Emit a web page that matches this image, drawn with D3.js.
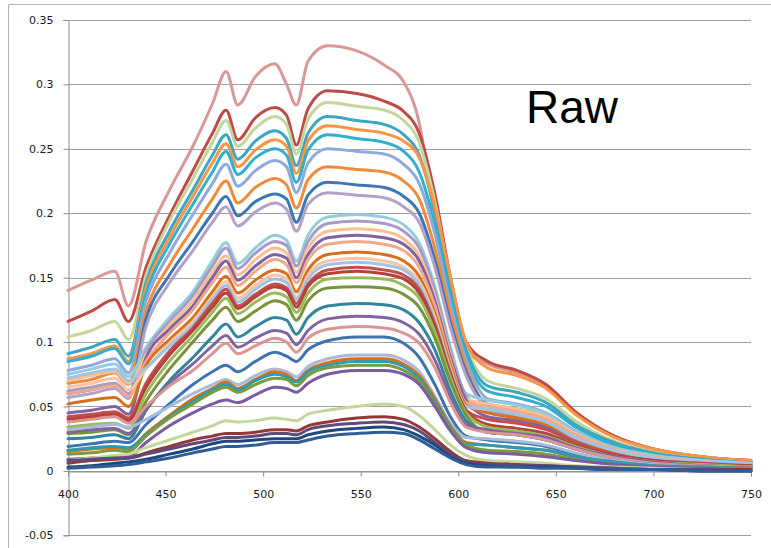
<!DOCTYPE html>
<html><head><meta charset="utf-8">
<script src="https://cdn.jsdelivr.net/npm/d3@7"></script>
<style>html,body{margin:0;padding:0;background:#fff;}svg{display:block;}</style>
</head><body>
<svg id="chart" width="771" height="548"></svg>
<script>
const wavelengths = [400,412,424,431,440,452,464,474,481,487,496,506,512,517,523,533,548,562,572,580,588,596,604,615,630,645,660,680,700,725,750];
const xTicks = [400,450,500,550,600,650,700,750];
const yTicks = [0.35,0.3,0.25,0.2,0.15,0.1,0.05,0,-0.05];
const yTickLabels = ["0.35","0.3","0.25","0.2","0.15","0.1","0.05","0","-0.05"];
const titleText = "Raw";

const s01 = [0.140,0.148,0.155,0.128,0.178,0.218,0.252,0.285,0.310,0.284,0.306,0.316,0.300,0.284,0.318,0.330,0.326,0.315,0.302,0.270,0.195,0.138,0.094,0.083,0.076,0.066,0.045,0.027,0.017,0.011,0.008];
const s02 = [0.116,0.124,0.133,0.116,0.158,0.198,0.233,0.262,0.280,0.257,0.274,0.282,0.276,0.253,0.281,0.295,0.293,0.287,0.279,0.262,0.215,0.150,0.100,0.085,0.078,0.067,0.046,0.027,0.017,0.011,0.008];
const s03 = [0.104,0.109,0.116,0.102,0.152,0.194,0.227,0.255,0.272,0.252,0.266,0.275,0.269,0.246,0.273,0.286,0.283,0.280,0.272,0.255,0.209,0.147,0.098,0.070,0.064,0.056,0.039,0.023,0.015,0.010,0.007];
const s04 = [0.091,0.096,0.102,0.089,0.146,0.186,0.218,0.245,0.261,0.242,0.256,0.264,0.258,0.237,0.262,0.275,0.272,0.269,0.261,0.245,0.201,0.141,0.094,0.066,0.061,0.053,0.036,0.022,0.014,0.009,0.007];
const s05 = [0.087,0.091,0.097,0.085,0.142,0.181,0.213,0.239,0.254,0.236,0.249,0.257,0.252,0.231,0.256,0.268,0.265,0.262,0.256,0.243,0.205,0.150,0.100,0.080,0.074,0.064,0.044,0.026,0.017,0.011,0.008];
const s06 = [0.085,0.089,0.095,0.083,0.138,0.176,0.207,0.232,0.248,0.230,0.243,0.250,0.245,0.224,0.249,0.261,0.258,0.255,0.248,0.232,0.191,0.134,0.089,0.062,0.057,0.050,0.034,0.020,0.013,0.009,0.006];
const s07 = [0.078,0.082,0.087,0.076,0.132,0.169,0.199,0.223,0.238,0.221,0.233,0.241,0.236,0.216,0.239,0.250,0.248,0.246,0.238,0.223,0.184,0.129,0.086,0.056,0.052,0.045,0.031,0.018,0.012,0.008,0.006];
const s08 = [0.068,0.071,0.076,0.067,0.124,0.160,0.188,0.211,0.225,0.208,0.220,0.227,0.222,0.204,0.226,0.236,0.234,0.232,0.225,0.211,0.173,0.122,0.081,0.050,0.046,0.040,0.028,0.017,0.011,0.007,0.005];
const s09 = [0.060,0.063,0.067,0.059,0.118,0.152,0.178,0.200,0.213,0.198,0.209,0.215,0.211,0.193,0.214,0.224,0.222,0.220,0.213,0.200,0.164,0.115,0.077,0.052,0.048,0.042,0.029,0.017,0.011,0.007,0.005];
const s10 = [0.057,0.060,0.064,0.056,0.112,0.146,0.171,0.193,0.205,0.190,0.201,0.208,0.203,0.186,0.207,0.216,0.214,0.212,0.205,0.193,0.158,0.111,0.074,0.050,0.046,0.040,0.028,0.017,0.011,0.007,0.005];
const s11 = [0.075,0.079,0.083,0.073,0.096,0.119,0.139,0.163,0.177,0.161,0.173,0.183,0.179,0.163,0.183,0.197,0.199,0.197,0.191,0.177,0.143,0.096,0.060,0.055,0.051,0.044,0.030,0.018,0.012,0.008,0.006];
const s12 = [0.062,0.065,0.068,0.060,0.093,0.116,0.136,0.159,0.173,0.157,0.169,0.178,0.175,0.159,0.178,0.192,0.194,0.192,0.186,0.173,0.140,0.093,0.058,0.047,0.043,0.038,0.026,0.016,0.010,0.007,0.005];
const s13 = [0.070,0.074,0.077,0.068,0.090,0.113,0.132,0.154,0.167,0.152,0.164,0.173,0.169,0.154,0.173,0.186,0.188,0.186,0.180,0.167,0.135,0.090,0.056,0.052,0.048,0.042,0.029,0.017,0.011,0.007,0.005];
const s14 = [0.045,0.047,0.050,0.044,0.088,0.110,0.128,0.150,0.163,0.148,0.159,0.168,0.165,0.150,0.168,0.181,0.183,0.181,0.176,0.163,0.132,0.088,0.055,0.042,0.039,0.034,0.023,0.014,0.009,0.006,0.004];
const s15 = [0.060,0.063,0.066,0.058,0.085,0.107,0.125,0.146,0.158,0.144,0.155,0.164,0.160,0.146,0.164,0.176,0.178,0.176,0.171,0.158,0.128,0.085,0.053,0.050,0.046,0.040,0.028,0.017,0.011,0.007,0.005];
const s16 = [0.052,0.055,0.057,0.050,0.082,0.102,0.119,0.139,0.151,0.138,0.148,0.156,0.153,0.139,0.156,0.168,0.170,0.168,0.163,0.151,0.122,0.082,0.051,0.045,0.041,0.036,0.025,0.015,0.009,0.006,0.005];
const s17 = [0.065,0.068,0.072,0.063,0.079,0.099,0.116,0.135,0.147,0.134,0.144,0.152,0.149,0.135,0.152,0.163,0.165,0.163,0.158,0.147,0.119,0.079,0.050,0.048,0.044,0.038,0.026,0.016,0.010,0.007,0.005];
const s18 = [0.072,0.076,0.079,0.070,0.080,0.097,0.113,0.133,0.144,0.131,0.141,0.149,0.146,0.133,0.149,0.160,0.162,0.160,0.156,0.144,0.117,0.078,0.050,0.048,0.044,0.038,0.026,0.016,0.010,0.007,0.005];
const s19 = [0.042,0.044,0.046,0.041,0.068,0.093,0.111,0.130,0.141,0.128,0.137,0.145,0.142,0.130,0.145,0.156,0.158,0.156,0.152,0.141,0.114,0.076,0.047,0.040,0.037,0.032,0.022,0.013,0.008,0.006,0.004];
const s20 = [0.040,0.042,0.044,0.039,0.065,0.090,0.109,0.127,0.138,0.126,0.135,0.143,0.140,0.127,0.143,0.153,0.155,0.153,0.149,0.138,0.112,0.074,0.047,0.036,0.033,0.029,0.020,0.012,0.008,0.005,0.004];
const s21 = [0.034,0.036,0.037,0.033,0.060,0.085,0.105,0.123,0.134,0.122,0.131,0.138,0.135,0.123,0.138,0.149,0.150,0.149,0.144,0.134,0.108,0.072,0.045,0.034,0.031,0.027,0.019,0.011,0.007,0.005,0.003];
const s22 = [0.029,0.030,0.032,0.028,0.054,0.079,0.100,0.117,0.127,0.116,0.124,0.132,0.129,0.117,0.132,0.142,0.143,0.142,0.137,0.127,0.103,0.069,0.043,0.030,0.028,0.024,0.017,0.010,0.006,0.004,0.003];
const s23 = [0.025,0.026,0.028,0.025,0.047,0.070,0.088,0.104,0.114,0.104,0.112,0.119,0.117,0.106,0.119,0.128,0.130,0.129,0.125,0.115,0.094,0.062,0.039,0.030,0.028,0.024,0.017,0.010,0.006,0.004,0.003];
const s24 = [0.030,0.032,0.033,0.029,0.048,0.068,0.083,0.097,0.105,0.096,0.103,0.109,0.107,0.098,0.109,0.118,0.120,0.119,0.115,0.106,0.086,0.057,0.036,0.032,0.029,0.026,0.018,0.011,0.007,0.004,0.003];
const s25 = [0.038,0.040,0.042,0.037,0.050,0.066,0.078,0.091,0.099,0.091,0.097,0.103,0.100,0.092,0.103,0.110,0.112,0.111,0.107,0.099,0.080,0.053,0.034,0.030,0.028,0.024,0.017,0.010,0.006,0.004,0.003];
const s26 = [0.019,0.021,0.023,0.022,0.036,0.052,0.067,0.077,0.082,0.077,0.085,0.092,0.089,0.085,0.094,0.101,0.104,0.104,0.099,0.088,0.067,0.042,0.027,0.024,0.022,0.019,0.013,0.008,0.005,0.003,0.002];
const s27 = [0.032,0.034,0.036,0.034,0.040,0.050,0.060,0.067,0.071,0.067,0.074,0.079,0.077,0.073,0.081,0.087,0.090,0.090,0.086,0.077,0.058,0.037,0.026,0.025,0.023,0.020,0.014,0.008,0.005,0.003,0.002];
const s28 = [0.015,0.017,0.018,0.017,0.029,0.043,0.056,0.064,0.069,0.064,0.071,0.077,0.075,0.070,0.078,0.084,0.087,0.087,0.083,0.074,0.056,0.035,0.022,0.020,0.018,0.016,0.011,0.007,0.004,0.003,0.002];
const s29 = [0.016,0.018,0.019,0.018,0.028,0.042,0.054,0.063,0.067,0.063,0.070,0.075,0.073,0.069,0.077,0.082,0.085,0.085,0.081,0.072,0.054,0.034,0.021,0.020,0.018,0.016,0.011,0.007,0.004,0.003,0.002];
const s30 = [0.013,0.014,0.016,0.015,0.027,0.041,0.052,0.061,0.065,0.061,0.067,0.072,0.071,0.066,0.074,0.080,0.082,0.082,0.078,0.070,0.052,0.033,0.020,0.016,0.015,0.013,0.009,0.005,0.003,0.002,0.002];
const s31 = [0.009,0.010,0.011,0.011,0.022,0.035,0.045,0.052,0.055,0.053,0.059,0.065,0.064,0.061,0.068,0.075,0.078,0.078,0.075,0.067,0.050,0.031,0.018,0.014,0.013,0.011,0.008,0.005,0.003,0.002,0.001];
const s32 = [0.008,0.010,0.012,0.013,0.018,0.024,0.030,0.035,0.039,0.038,0.039,0.041,0.040,0.039,0.044,0.047,0.050,0.052,0.050,0.043,0.032,0.020,0.012,0.008,0.007,0.006,0.004,0.003,0.002,0.001,0.001];
const s33 = [0.006,0.008,0.009,0.010,0.014,0.019,0.024,0.027,0.029,0.029,0.030,0.032,0.032,0.031,0.035,0.038,0.041,0.042,0.040,0.034,0.025,0.015,0.008,0.006,0.005,0.004,0.003,0.002,0.001,0.001,0.001];
const s34 = [0.008,0.009,0.010,0.010,0.013,0.017,0.021,0.024,0.026,0.026,0.027,0.029,0.029,0.028,0.032,0.035,0.037,0.038,0.036,0.031,0.022,0.013,0.007,0.005,0.004,0.004,0.003,0.002,0.001,0.001,0.000];
const s35 = [0.003,0.004,0.006,0.007,0.009,0.013,0.017,0.021,0.023,0.023,0.024,0.025,0.025,0.025,0.028,0.031,0.033,0.034,0.032,0.027,0.020,0.011,0.006,0.004,0.003,0.003,0.002,0.001,0.001,0.000,0.000];
const s36 = [0.002,0.003,0.004,0.005,0.007,0.010,0.014,0.017,0.019,0.019,0.020,0.022,0.022,0.022,0.024,0.027,0.029,0.030,0.029,0.024,0.017,0.010,0.005,0.003,0.003,0.002,0.002,0.001,0.001,0.000,0.000];

const seriesValues = [s01,s02,s03,s04,s05,s06,s07,s08,s09,s10,s11,s12,s13,s14,s15,s16,s17,s18,s19,s20,s21,s22,s23,s24,s25,s26,s27,s28,s29,s30,s31,s32,s33,s34,s35,s36];
const seriesColors = ["#D99795","#BE4B48","#C3D69B","#3FA5C0","#F79646","#31B0CC","#8EAADB","#F38A3A","#3C76B4","#B3A2C7",
  "#93CDDD","#A99BC9","#FAC090","#7F62A3","#F2A98A","#D6701E","#F8C4A2","#9DC3E6","#C0504D","#B7403C",
  "#9BBB59","#77933C","#31859C","#8064A2","#D99694","#3F72B0","#A7BCDD","#E46C0A","#2E9AB5","#7A9A3E",
  "#7A5CA0","#C3D69B","#953735","#604A7B","#1F497D","#2F5E97"];

const svg = d3.select("#chart");
svg.append("rect").attr("width",771).attr("height",548).attr("fill","#fff");

const x = d3.scaleLinear().domain([400,750]).range([68,751]);
const y = d3.scaleLinear().domain([-0.05,0.35]).range([535.3,20]);

// chart area border
svg.append("path").attr("d","M8.5,548V4.5H771").attr("fill","none").attr("stroke","#b4b4b4").attr("stroke-width",1);

// gridlines
svg.append("g").selectAll("line").data(yTicks).join("line")
  .attr("x1",x(400)).attr("x2",x(750))
  .attr("y1",d=>Math.round(y(d))+0.5).attr("y2",d=>Math.round(y(d))+0.5)
  .attr("stroke","#a0a0a0").attr("stroke-width",1);

// y axis
const yAxis = d3.axisLeft(y).tickValues(yTicks).tickSize(5).tickFormat((d,i)=>yTickLabels[i]);
const gy = svg.append("g").attr("transform","translate(68.5,0)").call(yAxis);
gy.select(".domain").attr("stroke","#8c8c8c");
gy.selectAll(".tick line").attr("stroke","#8c8c8c");
gy.selectAll(".tick text").attr("x",-15).attr("fill","#1a1a1a")
  .style("font-family","'DejaVu Sans', Verdana, sans-serif").style("font-size","11px");

// x axis at zero
const xAxis = d3.axisBottom(x).tickValues(xTicks).tickSize(5).tickFormat(d=>d);
const gx = svg.append("g").attr("transform",`translate(0,${Math.round(y(0))+0.5})`).call(xAxis);
gx.select(".domain").attr("stroke","#8c8c8c");
gx.selectAll(".tick line").attr("stroke","#8c8c8c");
gx.selectAll(".tick text").attr("y",19).attr("fill","#1a1a1a")
  .style("font-family","'DejaVu Sans', Verdana, sans-serif").style("font-size","11px");

// series
const line = d3.line().x((d,i)=>x(wavelengths[i])).y(d=>y(d)).curve(d3.curveMonotoneX);
svg.append("g").selectAll("path").data(seriesValues).join("path")
  .attr("d",d=>line(d))
  .attr("fill","none")
  .attr("stroke",(d,i)=>seriesColors[i])
  .attr("stroke-width",3)
  .attr("stroke-linejoin","round")
  .attr("stroke-linecap","round");

// title text
svg.append("text").attr("x",526).attr("y",123).text(titleText)
  .attr("fill","#000").style("font-family","'Liberation Sans', Arial, sans-serif").style("font-size","46px");
</script>
</body></html>
